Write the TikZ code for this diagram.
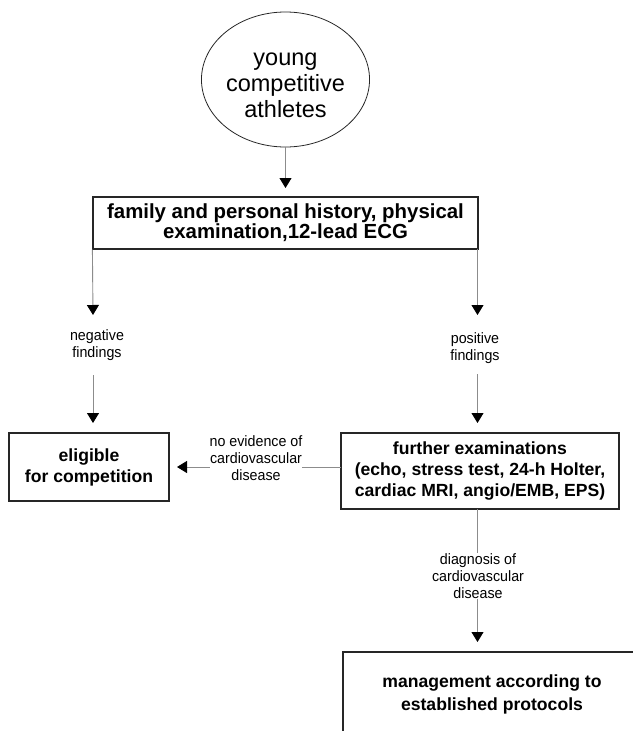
\documentclass[tikz,border=0pt]{standalone}
\usepackage{fontspec}
\setmainfont{Liberation Sans}
\newfontfamily\lblfont[FakeStretch=0.95]{Liberation Sans}
\usetikzlibrary{arrows.meta,shapes.geometric,calc}
\begin{document}
\begin{tikzpicture}[x=1pt,y=-1pt,
  box/.style={draw=black!85, line width=1.2pt, inner sep=0, align=center, font=\bfseries\fontsize{17.6}{21}\selectfont},
  lbl/.style={inner sep=0, align=center, fill=white, font=\lblfont\fontsize{15}{17}\selectfont},
  arr/.style={draw=black!45, line width=0.9pt, -{Triangle[width=12pt,length=10pt,color=black]}}]
\useasboundingbox (0,0) rectangle (632,731);
\fill[white] (0,0) rectangle (632,731);
% nodes
\node[draw=black!85, ellipse, minimum width=153pt, minimum height=135pt, inner sep=0, line width=0.8pt, align=center, font=\fontsize{23.5}{26}\selectfont] (ath) at (285.5,79.5) {\rule{0pt}{25pt}young\\competitive\\athletes};
\node[box, font=\bfseries\fontsize{20.4}{20}\selectfont, minimum width=385pt, minimum height=52pt] (hist) at (285.5,223) {family and personal history, physical\\examination,12-lead ECG};
\node[box, minimum width=160pt, minimum height=68pt] (elig) at (89,467) {eligible\\for competition};
\node[box, minimum width=278pt, minimum height=76pt] (further) at (480,471) {further examinations\\(echo, stress test, 24-h Holter,\\cardiac MRI, angio/EMB, EPS)};
\node[inner sep=0, align=center, font=\bfseries\fontsize{17.6}{23}\selectfont] (mgmt) at (492,694.5) {management according to\\established protocols};
\draw[draw=black!85, line width=1.2pt] (343,740) -- (343,652) -- (640,652);
% coordinates
\coordinate (t0) at (285.5,188);
\coordinate (t1) at (93,315);
\coordinate (s2) at (93,375);
\coordinate (t2) at (93,423);
\coordinate (r1) at (477.5,249);
\coordinate (t5) at (477.5,315);
\coordinate (s6) at (477.5,374);
\coordinate (t6) at (477.5,423);
\coordinate (h0) at (341,467);
\coordinate (t3) at (177,467);
\coordinate (v0) at (477.5,509);
\coordinate (t4) at (477.5,642);
% connectors
\draw[arr] (ath.south) -- (t0);
\draw[arr] (hist.south west) -- (t1);
\draw[arr] (s2) -- (t2);
\draw[arr] (r1) -- (t5);
\draw[arr] (s6) -- (t6);
\draw[arr] (h0) -- (t3);
\draw[arr] (v0) -- (t4);
% labels
\node[lbl] (neg) at (97,345) {negative\\findings};
\node[lbl] (pos) at (475,348.5) {positive\\findings};
\node[lbl] (noev) at (256,458.5) {no evidence of\\cardiovascular\\disease};
\node[lbl] (diag) at (478,576) {diagnosis of\\cardiovascular\\disease};
\end{tikzpicture}
\end{document}
